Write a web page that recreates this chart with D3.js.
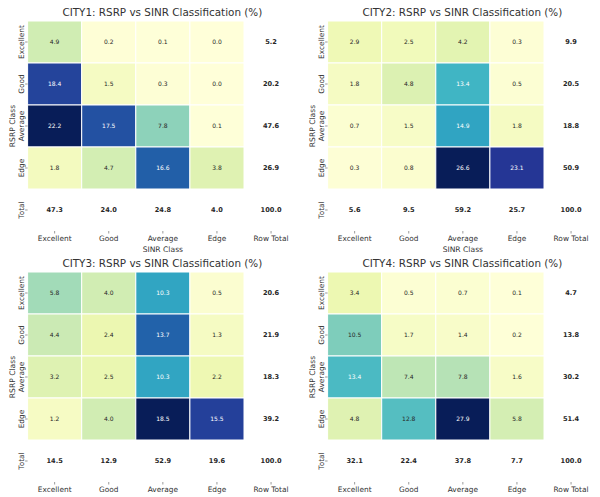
<!DOCTYPE html>
<html>
<head>
<meta charset="utf-8">
<script src="https://cdn.jsdelivr.net/npm/d3@7"></script>
<style>
  body { margin: 0; background: #fff; }
  svg { display: block; font-family: "DejaVu Sans", sans-serif; }
  .tick text { fill: #333; font-size: 7.4px; font-family: "DejaVu Sans", sans-serif; }
  .tick line { stroke: #555; stroke-width: 0.6; }
  .title { fill: #333; font-size: 10.4px; text-anchor: middle; }
  .axis-label { fill: #333; font-size: 7.6px; text-anchor: middle; }
</style>
</head>
<body>
<svg id="chart" width="600" height="497"></svg>
<script>
// categories
const sinrClasses = ['Excellent', 'Good', 'Average', 'Edge'];
const rsrpClasses = ['Excellent', 'Good', 'Average', 'Edge'];
const xLabels = [...sinrClasses, 'Row Total'];
const yLabels = [...rsrpClasses, 'Total'];
const cityNames = ['CITY1', 'CITY2', 'CITY3', 'CITY4'];

// % values, rows = RSRP class, cols = SINR class
const city1 = [
  [4.9, 0.2, 0.1, 0.0],
  [18.4, 1.5, 0.3, 0.0],
  [22.2, 17.5, 7.8, 0.1],
  [1.8, 4.7, 16.6, 3.8]
];
const city2 = [
  [2.9, 2.5, 4.2, 0.3],
  [1.8, 4.8, 13.4, 0.5],
  [0.7, 1.5, 14.9, 1.8],
  [0.3, 0.8, 26.6, 23.1]
];
const city3 = [
  [5.8, 4.0, 10.3, 0.5],
  [4.4, 2.4, 13.7, 1.3],
  [3.2, 2.5, 10.3, 2.2],
  [1.2, 4.0, 18.5, 15.5]
];
const city4 = [
  [3.4, 0.5, 0.7, 0.1],
  [10.5, 1.7, 1.4, 0.2],
  [13.4, 7.4, 7.8, 1.6],
  [4.8, 12.8, 27.9, 5.8]
];

// totals as printed
const rowTotals1 = [5.2, 20.2, 47.6, 26.9];
const colTotals1 = [47.3, 24.0, 24.8, 4.0, 100.0];
const rowTotals2 = [9.9, 20.5, 18.8, 50.9];
const colTotals2 = [5.6, 9.5, 59.2, 25.7, 100.0];
const rowTotals3 = [20.6, 21.9, 18.3, 39.2];
const colTotals3 = [14.5, 12.9, 52.9, 19.6, 100.0];
const rowTotals4 = [4.7, 13.8, 30.2, 51.4];
const colTotals4 = [32.1, 22.4, 37.8, 7.7, 100.0];

const matrices = [city1, city2, city3, city4];
const rowTotals = [rowTotals1, rowTotals2, rowTotals3, rowTotals4];
const colTotals = [colTotals1, colTotals2, colTotals3, colTotals4];

const svg = d3.select('#chart');

// panel geometry
const panelW = 300, panelH = 251;
const margin = { top: 21, left: 27.6 };
const innerW = 270.5, innerH = 210;

const fmt = d3.format('.1f');

// matplotlib style relative luminance -> text color like seaborn
const textColor = c => {
  const rgb = d3.rgb(c);
  const lin = v => { v /= 255; return v <= 0.03928 ? v / 12.92 : Math.pow((v + 0.055) / 1.055, 2.4); };
  const lum = 0.2126 * lin(rgb.r) + 0.7152 * lin(rgb.g) + 0.0722 * lin(rgb.b);
  return lum > 0.408 ? '#262626' : '#ffffff';
};

const render = (i) => {
  const data = matrices[i];
  const px = (i % 2) * panelW;
  const py = Math.floor(i / 2) * panelH;

  const g = svg.append('g')
    .attr('transform', `translate(${px + margin.left},${py + margin.top})`);

  const xScale = d3.scaleBand().domain(xLabels).range([0, innerW]);
  const yScale = d3.scaleBand().domain(yLabels).range([0, innerH]);

  // YlGnBu, 0..max of the inner cells
  const vmax = d3.max(data.flat());
  const stops = d3.schemeYlGnBu[9];
  const color = d3.scaleLinear()
    .domain(stops.map((_, k) => k / (stops.length - 1) * vmax))
    .range(stops);

  const cells = [];
  data.forEach((row, r) => row.forEach((v, c) => cells.push({ r: rsrpClasses[r], c: sinrClasses[c], v })));

  g.selectAll('rect.cell').data(cells)
    .enter().append('rect')
      .attr('class', 'cell')
      .attr('x', d => xScale(d.c))
      .attr('y', d => yScale(d.r))
      .attr('width', xScale.bandwidth())
      .attr('height', yScale.bandwidth())
      .attr('fill', d => color(d.v))
      .attr('stroke', '#fff')
      .attr('stroke-width', 1);

  g.selectAll('text.annot').data(cells)
    .enter().append('text')
      .attr('class', 'annot')
      .attr('x', d => xScale(d.c) + xScale.bandwidth() / 2)
      .attr('y', d => yScale(d.r) + yScale.bandwidth() / 2)
      .attr('dy', '0.35em')
      .attr('text-anchor', 'middle')
      .attr('font-size', 6)
      .attr('fill', d => textColor(color(d.v)))
      .text(d => fmt(d.v));

  // totals (bold, no fill)
  const totals = rowTotals[i].map((v, r) => ({ r: rsrpClasses[r], c: 'Row Total', v }))
    .concat(colTotals[i].map((v, c) => ({ r: 'Total', c: xLabels[c], v })));

  g.selectAll('text.total').data(totals)
    .enter().append('text')
      .attr('class', 'total')
      .attr('x', d => xScale(d.c) + xScale.bandwidth() / 2)
      .attr('y', d => yScale(d.r) + yScale.bandwidth() / 2)
      .attr('dy', '0.35em')
      .attr('text-anchor', 'middle')
      .attr('font-size', 6.6)
      .attr('font-weight', 'bold')
      .attr('fill', '#262626')
      .text(d => fmt(d.v));

  // axes
  const xAxisG = g.append('g')
    .attr('transform', `translate(0,${innerH})`)
    .call(d3.axisBottom(xScale).tickSize(2.5).tickPadding(2.5));
  xAxisG.select('.domain').remove();

  const yAxisG = g.append('g')
    .call(d3.axisLeft(yScale).tickSize(2.5));
  yAxisG.select('.domain').remove();
  yAxisG.selectAll('text')
    .attr('transform', 'rotate(-90)')
    .attr('x', 0)
    .attr('y', -3.6)
    .attr('dy', 0)
    .style('text-anchor', 'middle');

  g.append('text')
    .attr('class', 'axis-label')
    .attr('x', innerW / 2)
    .attr('y', innerH + 20.5)
    .text('SINR Class');

  g.append('text')
    .attr('class', 'axis-label')
    .attr('transform', `translate(-12.5,${innerH / 2}) rotate(-90)`)
    .text('RSRP Class');

  g.append('text')
    .attr('class', 'title')
    .attr('x', innerW / 2 - 0.5)
    .attr('y', -4.8)
    .text(`${cityNames[i]}: RSRP vs SINR Classification (%)`);
};

cityNames.forEach((_, i) => render(i));
</script>
</body>
</html>
